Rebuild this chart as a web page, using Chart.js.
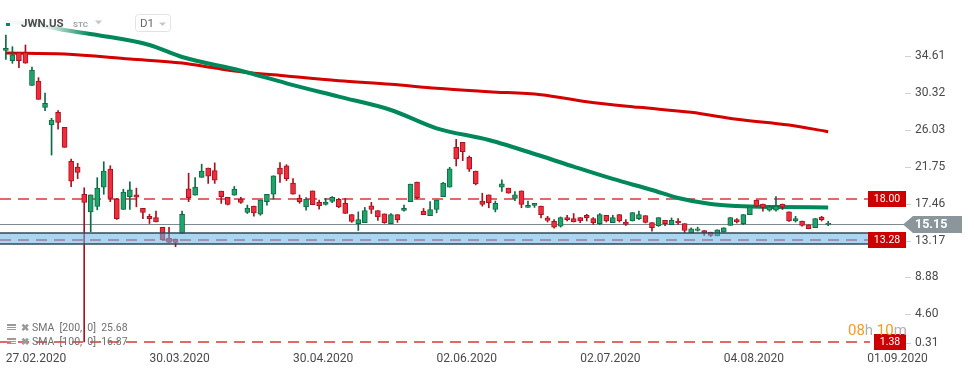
<!DOCTYPE html>
<html>
<head>
<meta charset="utf-8">
<script src="https://cdn.jsdelivr.net/npm/chart.js@4.4.1/dist/chart.umd.min.js"></script>
<style>
  html, body { margin: 0; padding: 0; background: #fff; }
</style>
</head>
<body>
<canvas id="chart" width="974" height="375"></canvas>
<script>
// daily candles JWN.US, 27.02.2020 -> 26.08.2020 (index = trading day)
let opens = [35.29,34.09,35.02,35.02,31.22,31.72,28.66,26.61,28.08,26.33,22.38,21.72,18.55,16.50,17.13,19.38,21.48,18.00,16.78,18.28,
  18.47,16.90,15.99,15.84,14.71,13.42,13.35,14.00,19.18,18.43,20.52,21.60,21.30,18.91,18.20,18.43,18.00,16.45,17.17,16.23,
  17.69,18.55,21.60,21.87,19.85,18.08,17.09,18.94,17.61,17.37,17.72,17.96,17.49,16.19,15.13,15.25,17.21,16.66,16.27,15.13,
  16.19,16.66,17.69,19.97,16.58,16.07,16.78,18.28,19.38,24.01,24.59,22.85,21.25,17.76,18.47,16.78,19.38,19.26,18.08,18.94,
  17.02,17.25,17.17,15.80,15.40,14.85,15.84,15.72,15.84,16.11,15.72,15.13,16.11,15.25,16.19,15.32,15.44,15.72,16.07,15.25,
  14.89,15.52,15.01,15.44,15.13,14.02,14.34,14.34,14.14,13.71,14.14,14.93,15.60,15.13,16.19,17.88,17.41,16.70,16.70,17.41,
  16.50,15.44,15.44,15.01,14.66,15.91,15.05];
let highs = [37.07,35.71,35.02,35.91,33.35,32.11,30.32,27.38,28.27,26.33,22.65,22.15,19.30,18.47,20.48,22.33,21.87,18.08,19.14,20.01,
  19.26,16.90,16.23,16.58,14.71,14.71,13.35,16.58,21.00,20.48,22.05,21.60,22.20,18.91,18.20,19.46,18.20,17.29,17.17,17.88,
  18.55,20.70,22.23,21.99,20.36,18.47,18.16,18.94,17.88,18.08,18.28,18.08,18.08,16.19,16.50,17.02,17.61,16.66,16.27,16.31,
  16.19,17.29,19.73,19.97,16.90,17.69,17.88,19.93,21.68,24.93,24.59,23.00,21.25,18.67,18.47,17.76,20.22,19.26,18.87,18.94,
  17.76,17.49,17.17,15.99,15.60,15.91,16.11,16.31,15.84,16.23,15.84,16.31,16.11,16.11,16.19,15.60,16.43,16.58,16.07,15.25,
  15.84,15.52,15.80,15.72,15.13,14.66,14.73,14.34,14.14,14.42,14.66,15.84,15.72,16.19,17.09,17.88,17.41,17.25,18.28,17.41,
  16.50,15.99,15.44,15.01,15.72,15.99,15.40];
let lows = [34.24,33.78,33.28,33.78,31.22,29.59,28.27,23.11,26.11,24.01,19.44,20.36,1.38,14.20,16.74,18.55,17.69,15.62,16.78,16.78,
  17.09,15.70,15.15,15.34,13.23,12.96,12.45,14.00,17.69,18.43,20.52,19.81,19.81,17.49,17.30,18.43,17.49,16.31,15.99,16.11,
  17.29,18.00,19.93,20.13,18.55,17.49,16.70,17.33,16.82,17.29,17.57,16.98,16.31,15.28,14.34,15.25,16.31,15.52,15.17,15.13,
  15.28,16.58,17.69,18.00,16.19,16.07,16.39,18.28,19.38,21.84,22.46,21.20,19.64,17.17,16.98,16.50,18.87,18.67,17.80,16.98,
  17.02,17.02,15.80,15.32,14.62,14.73,15.44,15.32,15.25,15.44,15.05,15.01,15.32,15.25,15.32,14.93,15.44,15.60,15.21,14.26,
  14.81,14.89,15.01,15.05,14.06,14.02,14.26,13.75,13.63,13.71,14.14,14.93,15.21,15.01,16.19,17.09,16.58,16.58,16.58,16.78,
  15.40,15.32,14.85,14.54,14.66,15.44,14.90];
let closes = [35.52,34.75,34.09,33.78,33.00,29.59,29.13,27.19,26.91,24.01,20.06,21.10,17.61,18.47,19.26,21.25,18.08,15.70,18.79,19.06,
  18.20,16.43,15.70,15.34,13.23,12.96,12.96,16.23,18.16,19.38,21.25,20.64,20.20,18.28,17.37,19.14,17.61,16.94,16.39,17.88,
  18.55,20.70,20.90,20.36,18.55,17.69,18.00,17.33,17.21,17.65,18.20,17.09,16.31,15.40,15.60,16.66,16.78,15.91,15.25,16.19,
  15.60,16.90,19.73,18.16,16.19,16.78,17.88,19.85,21.52,22.65,23.51,21.48,19.76,17.37,17.57,17.49,19.77,18.67,18.47,17.37,
  17.25,17.49,16.19,15.52,14.73,15.84,15.60,15.32,15.44,15.84,15.25,16.19,15.44,15.84,15.44,15.05,16.43,16.19,15.28,14.66,
  15.84,15.13,15.52,15.21,14.34,14.54,14.54,14.06,13.75,14.42,14.66,15.84,15.32,16.19,17.09,17.17,17.02,17.09,17.17,17.09,
  15.44,15.72,14.93,14.54,15.72,15.60,15.15];

// moving averages, read at sample days
let sma100Days = [0, 4, 9, 14, 22, 27, 36, 43, 51, 59, 66, 74, 82, 87, 93, 99, 103, 108, 112, 118, 126];
let sma100Vals = [38.58, 38.35, 37.65, 37.07, 35.91, 34.51, 32.92, 31.45, 29.90, 28.35, 26.22, 24.86, 23.00, 21.76, 20.33, 19.05, 18.12, 17.42, 17.19, 17.07, 17.01];
let sma200Days = [0, 9, 19, 27, 32, 36, 43, 51, 59, 66, 74, 82, 89, 97, 105, 112, 120, 126];
let sma200Vals = [34.98, 34.86, 34.28, 33.81, 33.23, 32.80, 32.30, 31.76, 31.34, 30.87, 30.48, 30.13, 29.31, 28.66, 28.08, 27.27, 26.60, 25.83];

// axis
let xTickDays = [0, 22, 44, 66, 88, 110, 132];
let xTickLabels = ['27.02.2020', '30.03.2020', '30.04.2020', '02.06.2020', '02.07.2020', '04.08.2020', '01.09.2020'];
let yTickValues = [0.31, 4.60, 8.88, 13.17, 17.46, 21.75, 26.03, 30.32, 34.61];

// levels
let levelValues = [18.00, 13.28, 1.38];
let lastPrice = 15.15;
let zoneLow = 12.77, zoneHigh = 14.05;
let smaLegend = ['SMA  [200,  0]  25.68', 'SMA  [100,  0]  16.87'];

const GREEN = '#1fa36b', GREEN_DARK = '#0c6b43';
const RED = '#ee2e3c', RED_DARK = '#a8121e';
const FONT = 'Roboto, "Noto Sans", sans-serif';

let isUp = opens.map((o, i) => closes[i] >= o);
let bodyData = opens.map((o, i) => ({ x: i, y: [o, closes[i]] }));
let wickData = lows.map((l, i) => ({ x: i, y: [l, highs[i]] }));
let sma100Data = sma100Days.map((d, i) => ({ x: d, y: sma100Vals[i] }));
let sma200Data = sma200Days.map((d, i) => ({ x: d, y: sma200Vals[i] }));

function smaGreen(ctx) {
  const chart = ctx.chart;
  const a = chart.chartArea;
  if (!a) return '#00875a';
  const g = chart.ctx.createLinearGradient(a.left, 0, a.left + 100, 0);
  g.addColorStop(0, 'rgba(0,135,90,0)');
  g.addColorStop(0.5, 'rgba(0,135,90,0.15)');
  g.addColorStop(0.9, 'rgba(0,135,90,1)');
  return g;
}

const overlay = {
  id: 'overlay',
  beforeDatasetsDraw(chart) {
    const { ctx, chartArea: a, scales: { y } } = chart;
    ctx.save();
    // last price line
    let yp = Math.round(y.getPixelForValue(lastPrice)) + 0.5;
    ctx.strokeStyle = '#7d8b90';
    ctx.lineWidth = 1;
    ctx.beginPath();
    ctx.moveTo(a.left, yp);
    ctx.lineTo(a.right + 36, yp);
    ctx.stroke();
    // dashed levels
    ctx.setLineDash([11, 7]);
    ctx.lineWidth = 1.5;
    ctx.strokeStyle = 'rgba(212,20,20,0.85)';
    levelValues.forEach(v => {
      let py = Math.round(y.getPixelForValue(v));
      ctx.beginPath();
      ctx.moveTo(a.left, py);
      ctx.lineTo(a.right + 2, py);
      ctx.stroke();
    });
    ctx.restore();
  },
  afterDatasetsDraw(chart) {
    const { ctx, chartArea: a, scales: { y } } = chart;
    ctx.save();
    // support zone
    let top = Math.round(y.getPixelForValue(zoneHigh));
    let bot = Math.round(y.getPixelForValue(zoneLow));
    ctx.fillStyle = 'rgba(100,180,230,0.55)';
    ctx.fillRect(a.left, top, a.right - a.left, bot - top);
    ctx.strokeStyle = '#34495a';
    ctx.lineWidth = 1.5;
    ctx.beginPath();
    ctx.moveTo(a.left, top); ctx.lineTo(a.right, top);
    ctx.moveTo(a.left, bot); ctx.lineTo(a.right, bot);
    ctx.stroke();

    // y axis ticks + labels
    ctx.font = '12px ' + FONT;
    ctx.textBaseline = 'middle';
    ctx.textAlign = 'left';
    yTickValues.forEach(v => {
      let py = Math.min(y.getPixelForValue(v), 343);
      ctx.strokeStyle = '#d0d0d0';
      ctx.lineWidth = 1;
      ctx.beginPath();
      ctx.moveTo(a.right + 37, Math.round(py) + 0.5);
      ctx.lineTo(a.right + 43, Math.round(py) + 0.5);
      ctx.stroke();
      ctx.fillStyle = '#4a4a4a';
      ctx.fillText(v.toFixed(2), a.right + 47, py);
    });

    // red level tags
    ctx.font = '10.5px ' + FONT;
    ctx.textAlign = 'center';
    levelValues.forEach(v => {
      let py = Math.round(y.getPixelForValue(v));
      let txt = v.toFixed(2);
      let w = Math.round(ctx.measureText(txt).width) + 12;
      let x1 = a.right + 38;
      ctx.fillStyle = '#cc0000';
      ctx.fillRect(x1 - w, py - 8, w, 16);
      ctx.fillStyle = '#fff';
      ctx.fillText(txt, x1 - w / 2, py + 0.5);
    });

    // last price tag
    let lp = Math.round(y.getPixelForValue(lastPrice)) + 0.5;
    let tx = a.right + 35;
    ctx.fillStyle = '#8a969b';
    ctx.beginPath();
    ctx.moveTo(tx, lp);
    ctx.lineTo(tx + 10, lp - 8.5);
    ctx.lineTo(tx + 59, lp - 8.5);
    ctx.lineTo(tx + 59, lp + 8.5);
    ctx.lineTo(tx + 10, lp + 8.5);
    ctx.closePath();
    ctx.fill();
    ctx.fillStyle = '#fff';
    ctx.font = 'bold 12.5px ' + FONT;
    ctx.textAlign = 'left';
    ctx.fillText(lastPrice.toFixed(2), a.right + 47, lp + 0.5);

    // countdown
    ctx.font = '15px ' + FONT;
    ctx.textBaseline = 'alphabetic';
    let cx = 848;
    [['08', '#f59a23'], ['h ', '#b0b0b0'], ['10', '#f59a23'], ['m', '#b0b0b0']].forEach(([t, c]) => {
      ctx.fillStyle = c;
      ctx.fillText(t, cx, 335);
      cx += ctx.measureText(t).width;
    });

    // SMA legend
    ctx.font = '10.5px ' + FONT;
    ctx.textBaseline = 'middle';
    smaLegend.forEach((t, i) => {
      let ly = 328 + i * 14;
      ctx.fillStyle = '#9a9a9a';
      ctx.fillRect(7, ly - 4, 9, 2);
      ctx.fillRect(7, ly - 1, 9, 1);
      ctx.fillRect(7, ly + 1, 9, 1);
      ctx.font = 'bold 10px ' + FONT;
      ctx.fillText('\u2716', 21, ly);
      ctx.font = '10.5px ' + FONT;
      ctx.fillStyle = '#707070';
      ctx.fillText(t, 32, ly + 0.5);
    });

    // header
    ctx.fillStyle = '#0a8a5a';
    ctx.fillRect(6, 23, 4, 3);
    ctx.font = 'bold 11.5px ' + FONT;
    ctx.fillStyle = '#4d4d4d';
    ctx.fillText('JWN.US', 21, 24);
    ctx.font = 'bold 8px ' + FONT;
    ctx.fillStyle = '#9aa3a6';
    ctx.fillText('STC', 73, 25);
    ctx.fillStyle = '#c8c8c8';
    ctx.beginPath();
    ctx.moveTo(95, 20.5); ctx.lineTo(102, 20.5); ctx.lineTo(98.5, 24.5); ctx.closePath();
    ctx.fill();
    ctx.strokeStyle = '#e3e3e3';
    ctx.lineWidth = 1;
    ctx.beginPath();
    ctx.roundRect(135.5, 14.5, 35, 17, 3);
    ctx.stroke();
    ctx.font = '11.5px ' + FONT;
    ctx.fillStyle = '#666';
    ctx.fillText('D1', 140, 24);
    ctx.fillStyle = '#c8c8c8';
    ctx.beginPath();
    ctx.moveTo(159, 22.5); ctx.lineTo(166, 22.5); ctx.lineTo(162.5, 26); ctx.closePath();
    ctx.fill();
    ctx.restore();
  }
};

new Chart('chart', {
  type: 'bar',
  data: {
    datasets: [
      {
        label: 'body', data: bodyData, order: 1, grouped: false,
        barThickness: 5, minBarLength: 1, borderWidth: 1, borderSkipped: false,
        backgroundColor: isUp.map(u => u ? GREEN : RED),
        borderColor: isUp.map(u => u ? GREEN_DARK : RED_DARK)
      },
      {
        label: 'wick', data: wickData, order: 2, grouped: false,
        barThickness: 1, borderWidth: 0,
        backgroundColor: isUp.map(u => u ? GREEN_DARK : RED_DARK)
      },
      {
        type: 'line', label: 'SMA 100', data: sma100Data, order: 3,
        borderColor: smaGreen, borderWidth: 4, pointRadius: 0,
        cubicInterpolationMode: 'monotone', fill: false
      },
      {
        type: 'line', label: 'SMA 200', data: sma200Data, order: 4,
        borderColor: '#d50000', borderWidth: 3, pointRadius: 0,
        cubicInterpolationMode: 'monotone', fill: false
      }
    ]
  },
  options: {
    responsive: false,
    animation: false,
    events: [],
    layout: { padding: 0 },
    plugins: { legend: { display: false }, tooltip: { enabled: false } },
    scales: {
      x: {
        type: 'linear', min: -0.9, max: 132.1, offset: false,
        grid: { display: false }, border: { display: false },
        afterBuildTicks: s => { s.ticks = xTickDays.map(v => ({ value: v })); },
        afterFit: s => { s.height = 25; },
        ticks: {
          align: 'start', padding: -6, maxRotation: 0, autoSkip: false,
          color: '#4a4a4a', font: { family: FONT, size: 12 },
          callback: (v, i) => xTickLabels[i]
        }
      },
      y: {
        position: 'right', min: 0.44, max: 41.14,
        grid: { display: false }, border: { display: false },
        ticks: { display: false },
        afterFit: s => { s.width = 106; }
      }
    }
  },
  plugins: [overlay]
});
</script>
</body>
</html>
